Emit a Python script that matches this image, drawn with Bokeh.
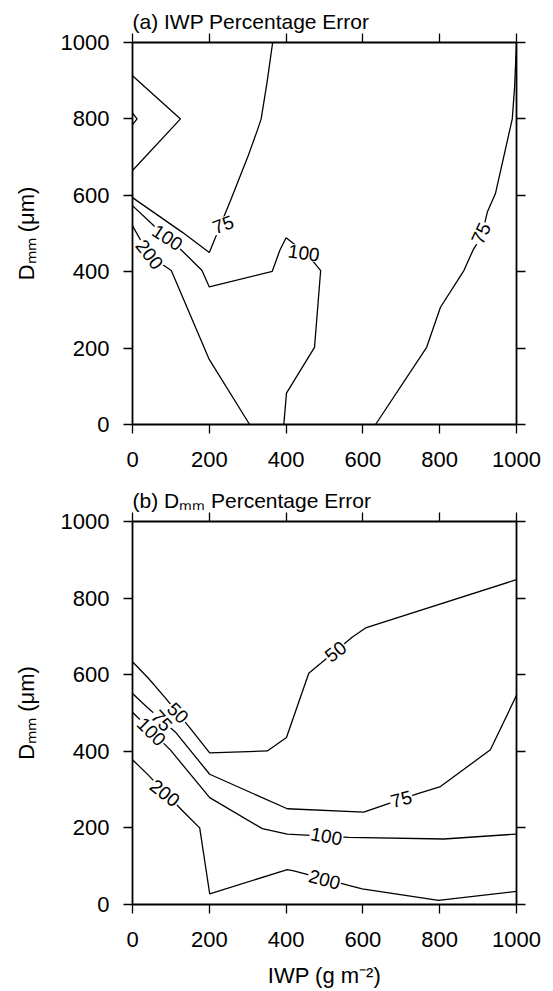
import math

from bokeh.core.properties import value
from bokeh.embed import file_html
from bokeh.layouts import column
from bokeh.models import ColumnDataSource, FixedTicker, LinearAxis, Range1d
from bokeh.plotting import figure
from bokeh.resources import INLINE

FONT = "Liberation Sans"

# Axis ticks (IWP in g m-2 on x, Dmm in micrometres on y)
TICKS = [0, 200, 400, 600, 800, 1000]
TICK_LABELS = ["0", "200", "400", "600", "800", "1000"]

TITLE_A = "(a) IWP Percentage Error"
TITLE_B = "(b) D\u2098\u2098 Percentage Error"
Y_LABEL = "D\u2098\u2098 (\u03bcm)"
X_LABEL = "IWP (g m\u207b\u00b2)"

# ---- Panel (a): IWP percentage error ---------------------------------------
A_75_WEST_IWP = [0, 130, 200, 255, 300, 325, 335, 350, 365]
A_75_WEST_DMM = [594, 503, 450, 586, 700, 770, 800, 893, 1000]

A_100_IWP = [0, 55, 129, 181, 200, 364, 384, 400, 420, 472, 490, 474, 401, 394]
A_100_DMM = [573, 521, 455, 403, 360, 401, 457, 489, 473, 425, 403, 202, 82, 0]

A_200_IWP = [0, 44, 101, 199, 305]
A_200_DMM = [520, 442, 403, 172, 0]

A_75_EAST_IWP = [633, 766, 802, 863, 887, 909, 924, 945, 989, 995, 1000]
A_75_EAST_DMM = [0, 202, 307, 403, 457, 492, 556, 604, 800, 883, 1000]

A_LOOP_IWP = [0, 125, 0]
A_LOOP_DMM = [913, 800, 665]

A_DOT_IWP = [0, 12, 0]
A_DOT_DMM = [815, 800, 785]

# contour labels: level, IWP, Dmm, orientation (deg)
A_LABEL_TEXT = ["75", "100", "200", "100", "75"]
A_LABEL_IWP = [236, 91, 44, 446, 908]
A_LABEL_DMM = [523, 489, 445, 449, 500]
A_LABEL_ANGLE = [20, -33, -52, -8, 65]

# ---- Panel (b): Dmm percentage error ---------------------------------------
B_50_IWP = [0, 42, 86, 151, 201, 351, 401, 459, 572, 607, 1000]
B_50_DMM = [634, 590, 539, 459, 396, 401, 436, 604, 698, 722, 848]

B_75_IWP = [0, 38, 112, 201, 403, 602, 741, 802, 932, 1000]
B_75_DMM = [551, 515, 450, 340, 250, 241, 289, 308, 404, 546]

B_100_IWP = [0, 99, 201, 338, 403, 563, 811, 1000]
B_100_DMM = [502, 403, 279, 198, 184, 175, 171, 184]

B_200_IWP = [0, 38, 134, 175, 201, 403, 420, 563, 598, 797, 1000]
B_200_DMM = [378, 341, 241, 200, 28, 91, 88, 50, 41, 11, 34]

B_LABEL_TEXT = ["50", "50", "75", "75", "100", "100", "200", "200"]
B_LABEL_IWP = [118, 529, 76, 700, 49, 505, 84, 500]
B_LABEL_DMM = [500, 660, 480, 275, 451, 178, 291, 65]
B_LABEL_ANGLE = [-45, 38, -48, 15, -45, -10, -38, -15]

FRAME_W = 384


def make_panel(frame_h, border_top, border_bottom, title, x_label=None):
    p = figure(
        frame_width=FRAME_W, frame_height=frame_h,
        x_range=Range1d(0, 1000), y_range=Range1d(0, 1000),
        min_border_left=132, min_border_right=37,
        min_border_top=border_top, min_border_bottom=border_bottom,
        output_backend="svg", toolbar_location=None,
        background_fill_color="white", border_fill_color="white",
        title=title,
    )
    p.grid.visible = False
    p.outline_line_color = None
    p.add_layout(LinearAxis(), "above")
    p.add_layout(LinearAxis(), "right")
    overrides = {t: s for t, s in zip(TICKS, TICK_LABELS)}
    for ax in p.above + p.below + p.left + p.right:
        if not isinstance(ax, LinearAxis):
            continue
        ax.ticker = FixedTicker(ticks=TICKS, minor_ticks=[])
        ax.major_label_overrides = overrides
        ax.axis_line_color = "black"
        ax.axis_line_width = 1.8
        ax.major_tick_line_color = "black"
        ax.major_tick_line_width = 1.3
        ax.major_tick_in = 0
        ax.major_tick_out = 9
        ax.minor_tick_line_color = None
        ax.major_label_text_font = FONT
        ax.major_label_text_font_size = "22px"
        ax.major_label_text_color = "black"
    for ax in p.above + p.right:
        if isinstance(ax, LinearAxis):
            ax.major_label_text_font_size = "0px"
            ax.major_label_text_alpha = 0
            ax.major_label_standoff = 0

    xa = p.below[0]
    xa.major_label_standoff = 18
    if x_label:
        xa.axis_label = x_label
        xa.axis_label_text_font = FONT
        xa.axis_label_text_font_size = "22px"
        xa.axis_label_text_font_style = "normal"
        xa.axis_label_text_color = "black"
        xa.axis_label_standoff = 13

    ya = p.left[0]
    ya.major_label_standoff = 14
    ya.axis_label = Y_LABEL
    ya.axis_label_text_font = FONT
    ya.axis_label_text_font_size = "22px"
    ya.axis_label_text_font_style = "normal"
    ya.axis_label_text_color = "black"
    ya.axis_label_standoff = 19

    p.title.align = "left"
    p.title.offset = 0
    p.title.standoff = 2
    p.title.text_font = FONT
    p.title.text_font_size = "21px"
    p.title.text_font_style = "normal"
    p.title.text_color = "black"
    return p


def draw_contours(p, xs, ys):
    src = ColumnDataSource(data=dict(xs=xs, ys=ys))
    p.multi_line(xs="xs", ys="ys", source=src, line_color="black", line_width=1.3)


def draw_levels(p, texts, xs, ys, angles):
    src = ColumnDataSource(data=dict(
        x=xs, y=ys, text=texts, angle=[math.radians(a) for a in angles]))
    p.text(x="x", y="y", text="text", angle="angle", source=src,
           text_font=value(FONT), text_font_size="19px", text_color="black",
           text_align="center", text_baseline="middle",
           background_fill_color="white", padding=1)


# ---- panel (a)
pa = make_panel(382, 42, 54, TITLE_A)
draw_contours(pa,
              [A_75_WEST_IWP, A_100_IWP, A_200_IWP, A_75_EAST_IWP, A_LOOP_IWP, A_DOT_IWP],
              [A_75_WEST_DMM, A_100_DMM, A_200_DMM, A_75_EAST_DMM, A_LOOP_DMM, A_DOT_DMM])
draw_levels(pa, A_LABEL_TEXT, A_LABEL_IWP, A_LABEL_DMM, A_LABEL_ANGLE)

# ---- panel (b)
pb = make_panel(383, 43, 87, TITLE_B, x_label=X_LABEL)
draw_contours(pb,
              [B_50_IWP, B_75_IWP, B_100_IWP, B_200_IWP],
              [B_50_DMM, B_75_DMM, B_100_DMM, B_200_DMM])
draw_levels(pb, B_LABEL_TEXT, B_LABEL_IWP, B_LABEL_DMM, B_LABEL_ANGLE)

layout = column(pa, pb)
open("out.html", "w").write(file_html(layout, INLINE))
